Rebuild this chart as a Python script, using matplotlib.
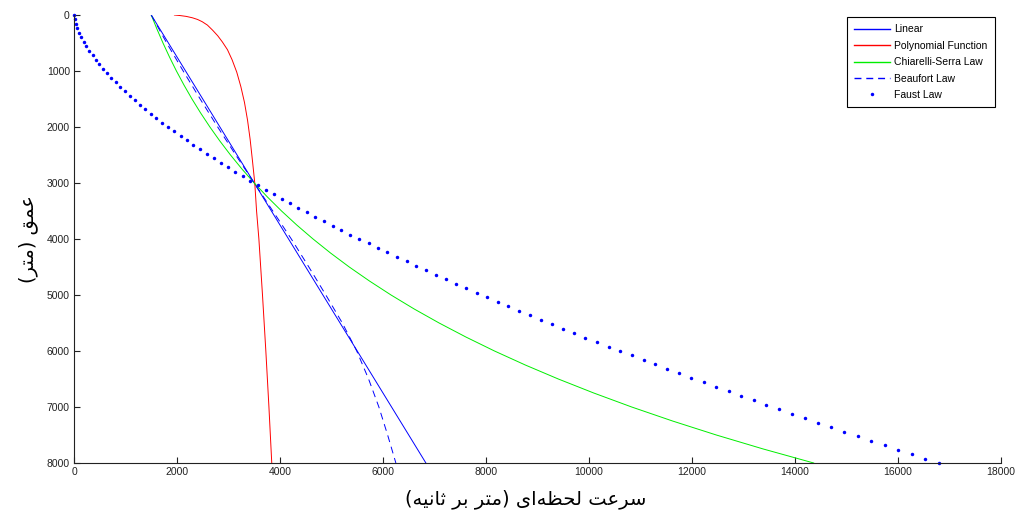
import numpy as np
import matplotlib
matplotlib.use("Agg")
from matplotlib import pyplot as plt

plt.rcParams['font.family'] = ['Liberation Sans', 'DejaVu Sans']
plt.rcParams['lines.scale_dashes'] = False

# depth (m) and interval velocity (m/s) for each law
lin_depth = [0, 8000]
lin_vel = [1500, 6833]

poly_depth = [0, 10, 25, 50, 80, 120, 180, 270, 370, 480, 620, 800, 1020,
              1280, 1560, 1880, 2220, 2600, 3000, 3500, 4000, 5000, 6000,
              7000, 8000]
poly_vel = [1950, 2060, 2180, 2300, 2400, 2490, 2590, 2690, 2790, 2880, 2980,
            3070, 3160, 3240, 3310, 3370, 3420, 3465, 3510, 3545, 3590, 3660,
            3725, 3785, 3840]

cs_depth = [0, 250, 500, 750, 1000, 1250, 1500, 1750, 2000, 2250, 2500,
            2750, 3000, 3250, 3500, 3750, 4000, 4250, 4500, 4750, 5000,
            5250, 5500, 5750, 6000, 6250, 6500, 6750, 7000, 7250, 7500,
            7750, 8000]
cs_vel = [1500, 1610, 1728, 1854, 1989, 2135, 2291, 2459, 2639, 2832, 3039,
          3261, 3500, 3756, 4030, 4325, 4642, 4981, 5345, 5737, 6156,
          6606, 7090, 7609, 8165, 8763, 9404, 10092, 10829, 11622, 12472,
          13384, 14363]

bf_depth = [0, 500, 1000, 1500, 2000, 2500, 3000, 3500, 4000, 4500, 5000,
            5500, 6000, 6500, 7000, 7500, 8000]
bf_vel = [1500, 1800, 2120, 2450, 2790, 3140, 3500, 3860, 4220, 4560, 4890,
          5210, 5490, 5720, 5920, 6090, 6250]

faust_depth = np.arange(0, 8001, 80)
faust_vel = [0, 10, 30, 60, 100, 140, 190, 240, 300, 360, 420,
             490, 560, 640, 720, 810, 900, 990, 1080, 1180, 1280,
             1380, 1490, 1600, 1710, 1830, 1950, 2070, 2190, 2320, 2450,
             2580, 2710, 2850, 2990, 3130, 3280, 3420, 3570, 3720, 3880,
             4030, 4190, 4350, 4520, 4680, 4850, 5020, 5190, 5360, 5540,
             5720, 5900, 6080, 6270, 6460, 6640, 6830, 7030, 7220, 7420,
             7620, 7820, 8020, 8230, 8430, 8640, 8850, 9060, 9280, 9490,
             9710, 9930, 10150, 10380, 10600, 10830, 11060, 11290, 11520, 11750,
             11990, 12230, 12470, 12710, 12950, 13200, 13440, 13690, 13940, 14190,
             14440, 14700, 14960, 15220, 15480, 15740, 16000, 16270, 16530, 16800]

labels = ['Linear', 'Polynomial Function', 'Chiarelli-Serra Law',
          'Beaufort Law', 'Faust Law']
x_label = 'سرعت لحظه‌ای (متر بر ثانیه)'
y_label = 'عمق (متر)'

# contextual forms: isolated, final, initial, medial
FORMS = {
    'ا': ('\uFE8D', '\uFE8E', None, None),
    'ب': ('\uFE8F', '\uFE90', '\uFE91', '\uFE92'),
    'ت': ('\uFE95', '\uFE96', '\uFE97', '\uFE98'),
    'ث': ('\uFE99', '\uFE9A', '\uFE9B', '\uFE9C'),
    'ح': ('\uFEA1', '\uFEA2', '\uFEA3', '\uFEA4'),
    'ر': ('\uFEAD', '\uFEAE', None, None),
    'س': ('\uFEB1', '\uFEB2', '\uFEB3', '\uFEB4'),
    'ظ': ('\uFEC5', '\uFEC6', '\uFEC7', '\uFEC8'),
    'ع': ('\uFEC9', '\uFECA', '\uFECB', '\uFECC'),
    'ق': ('\uFED5', '\uFED6', '\uFED7', '\uFED8'),
    'ل': ('\uFEDD', '\uFEDE', '\uFEDF', '\uFEE0'),
    'م': ('\uFEE1', '\uFEE2', '\uFEE3', '\uFEE4'),
    'ن': ('\uFEE5', '\uFEE6', '\uFEE7', '\uFEE8'),
    'ه': ('\uFEE9', '\uFEEA', '\uFEEB', '\uFEEC'),
    'ی': ('\uFEEF', '\uFEF0', '\uFEF3', '\uFEF4'),
}


def rtl(text):
    out = []
    for i, c in enumerate(text):
        if c not in FORMS:
            out.append(c)
            continue
        prev = text[i - 1] if i > 0 else ''
        nxt = text[i + 1] if i + 1 < len(text) else ''
        jp = prev in FORMS and FORMS[prev][2] is not None
        jn = nxt in FORMS and FORMS[c][2] is not None
        iso, fin, ini, med = FORMS[c]
        if jp and jn:
            out.append(med)
        elif jp:
            out.append(fin)
        elif jn:
            out.append(ini)
        else:
            out.append(iso)
    s = ''.join(ch for ch in out if ch != '\u200c')
    return s[::-1].translate(str.maketrans('()', ')('))


fig = plt.figure(figsize=(10.16, 5.15), dpi=100)
ax = fig.add_axes([74 / 1016, 52 / 515, 927 / 1016, 448 / 515])

ax.plot(lin_vel, lin_depth, color='#0000ff', lw=0.7, label=labels[0])
ax.plot(poly_vel, poly_depth, color='#ff0000', lw=0.7, label=labels[1])
ax.plot(cs_vel, cs_depth, color='#00ee00', lw=0.7, label=labels[2])
ax.plot(bf_vel, bf_depth, color='#0000ff', lw=0.7, ls='--', dashes=(5, 3.5),
        label=labels[3])
ax.plot(faust_vel, faust_depth, ls='none', marker='o', ms=2.5, mew=0,
        color='#0000ff', label=labels[4], clip_on=False)

ax.set_xlim(0, 18000)
ax.set_ylim(8000, 0)
ax.set_xticks(range(0, 18001, 2000))
ax.set_yticks(range(0, 8001, 1000))
ax.tick_params(direction='in', length=4, width=0.8, labelsize=7.5,
               colors='#222222', pad=3)
for s in ['top', 'right']:
    ax.spines[s].set_visible(False)
for s in ['left', 'bottom']:
    ax.spines[s].set_color('#222222')
    ax.spines[s].set_linewidth(0.8)

ax.set_xlabel(rtl(x_label), family='DejaVu Sans', fontsize=14, labelpad=9)
ax.xaxis.set_label_coords(0.487, -0.058, transform=ax.transAxes)
ax.xaxis.label.set_va('top')
ax.set_ylabel(rtl(y_label), family='DejaVu Sans', fontsize=14, labelpad=6)

leg = ax.legend(loc='upper right', bbox_to_anchor=(0.9935, 0.9955),
                borderaxespad=0, fontsize=7.5, fancybox=False, framealpha=1,
                edgecolor='black', handlelength=3.5, handletextpad=0.4,
                labelspacing=0.62, borderpad=0.7)
leg.get_frame().set_linewidth(0.8)
for h in leg.get_lines()[:4]:
    h.set_linewidth(1.0)

fig.savefig('out.png', dpi=100)
